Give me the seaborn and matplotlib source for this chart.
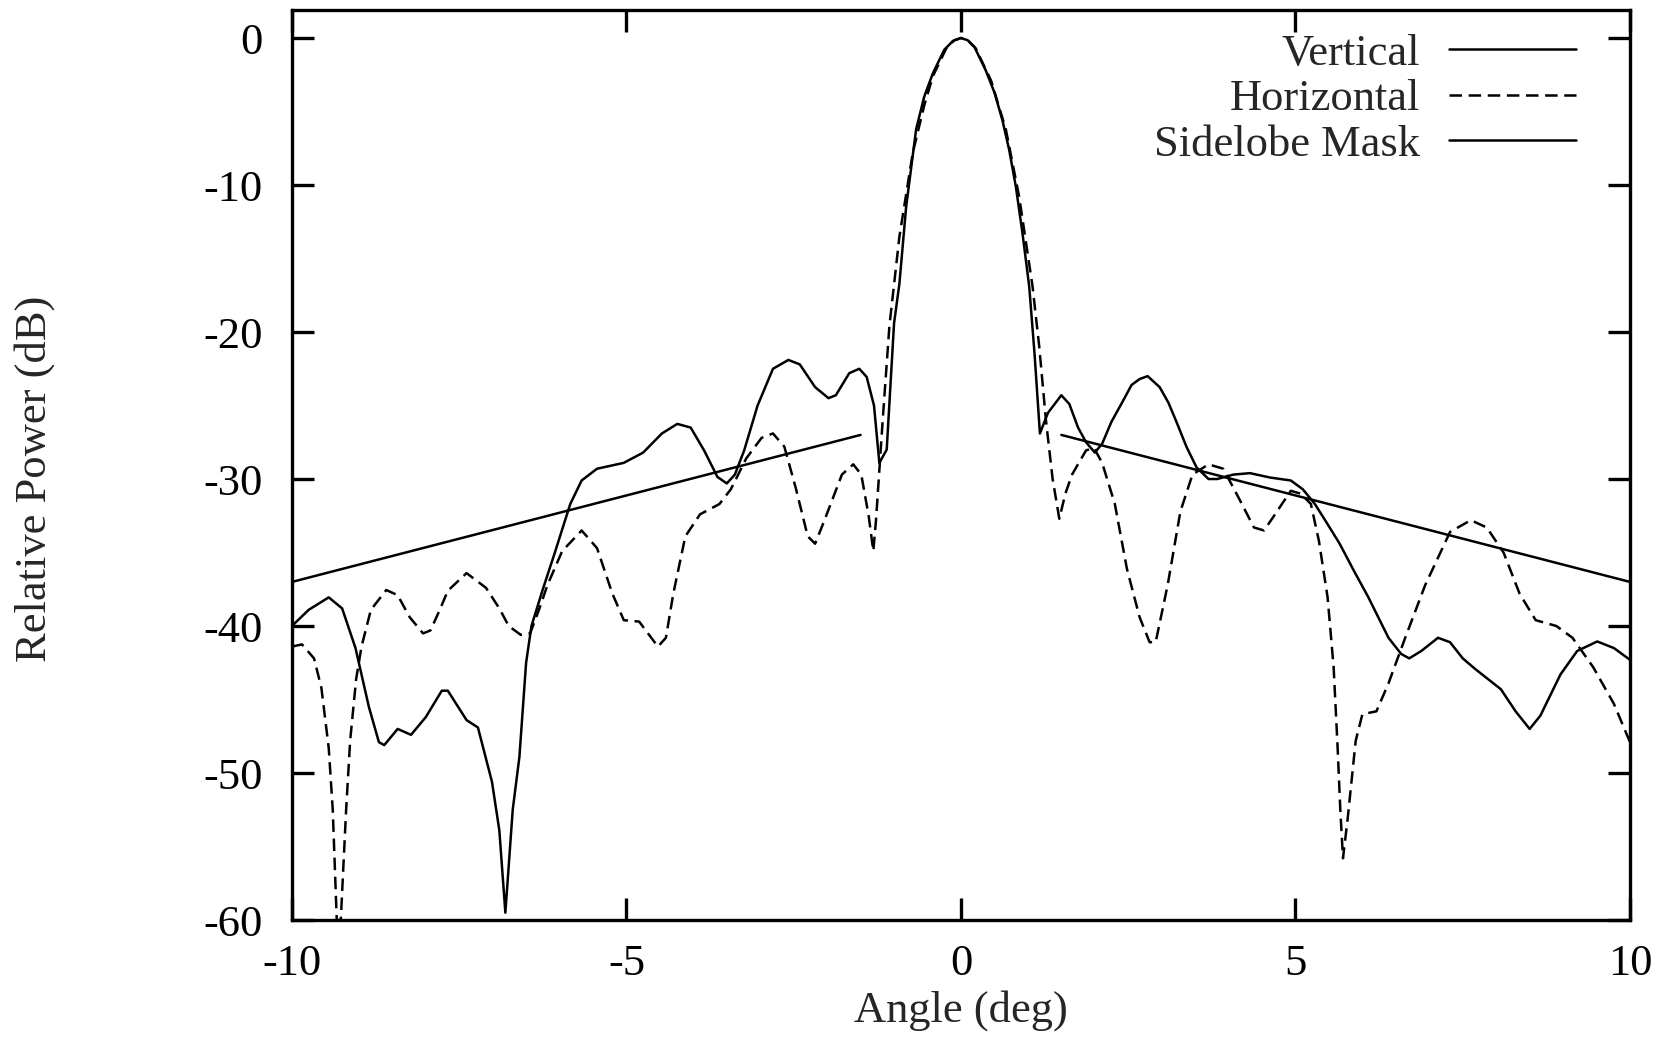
import numpy as np
import pandas as pd
import matplotlib
matplotlib.use("Agg")
import matplotlib.pyplot as plt
import seaborn as sns

# antenna pattern cuts (angle in deg, power in dB)
vert_angle = [-10.0, -9.75, -9.45, -9.25, -9.05, -8.85, -8.70, -8.62, -8.42, -8.22,
              -8.0, -7.76, -7.67, -7.39, -7.22, -7.01, -6.90, -6.81, -6.70, -6.60,
              -6.50, -6.42, -6.25, -6.07, -5.84, -5.67, -5.44, -5.04, -4.75, -4.47,
              -4.24, -4.04, -3.84, -3.64, -3.50, -3.38, -3.24, -3.04, -2.81, -2.58,
              -2.41, -2.18, -1.98, -1.87, -1.67, -1.52, -1.41, -1.30, -1.22, -1.11,
              -1.00, -0.92, -0.82, -0.67, -0.55, -0.42, -0.25, -0.12, 0.0, 0.10,
              0.20, 0.37, 0.50, 0.62, 0.72, 0.82, 0.92, 1.02, 1.10, 1.18,
              1.30, 1.50, 1.62, 1.75, 1.87, 2.0, 2.11, 2.25, 2.42, 2.55,
              2.67, 2.79, 2.97, 3.10, 3.22, 3.37, 3.52, 3.70, 3.83, 4.07,
              4.32, 4.62, 4.93, 5.11, 5.29, 5.47, 5.66, 5.88, 6.09, 6.39,
              6.58, 6.70, 6.88, 7.13, 7.31, 7.50, 7.68, 8.07, 8.29, 8.50,
              8.66, 8.96, 9.21, 9.51, 9.76, 10.0]
vert_db = [-40.0, -38.9, -38.05, -38.8, -41.5, -45.5, -47.9, -48.1, -47.0, -47.4,
           -46.2, -44.4, -44.4, -46.4, -46.9, -50.6, -53.9, -59.5, -52.5, -48.9,
           -42.5, -40.0, -37.5, -35.0, -31.7, -30.1, -29.3, -28.9, -28.2, -26.9,
           -26.25, -26.5, -28.05, -29.86, -30.3, -29.7, -28.05, -25.0, -22.5, -21.9,
           -22.2, -23.75, -24.5, -24.3, -22.8, -22.5, -23.05, -25.0, -28.9, -28.0,
           -19.4, -16.7, -11.5, -6.2, -4.0, -2.4, -0.8, -0.2, 0.0, -0.15,
           -0.6, -2.2, -3.7, -5.6, -7.6, -10.1, -13.3, -16.9, -21.5, -26.9,
           -25.5, -24.3, -24.9, -26.5, -27.5, -28.2, -27.6, -26.1, -24.7, -23.6,
           -23.2, -23.0, -23.75, -24.8, -26.1, -27.8, -29.2, -30.0, -30.0, -29.7,
           -29.6, -29.9, -30.1, -30.7, -31.7, -33.0, -34.4, -36.3, -38.05, -40.8,
           -41.9, -42.2, -41.7, -40.8, -41.1, -42.2, -42.9, -44.3, -45.8, -47.0,
           -46.1, -43.3, -41.7, -41.05, -41.5, -42.3]

horiz_angle = [-10.0, -9.85, -9.67, -9.56, -9.45, -9.39, -9.33, -9.27, -9.19, -9.13,
               -9.04, -8.96, -8.82, -8.59, -8.42, -8.24, -8.04, -7.93, -7.80, -7.67,
               -7.39, -7.10, -6.90, -6.76, -6.58, -6.44, -6.30, -6.18, -5.96, -5.67,
               -5.44, -5.21, -5.04, -4.81, -4.53, -4.41, -4.30, -4.12, -3.90, -3.61,
               -3.44, -3.21, -2.98, -2.81, -2.64, -2.47, -2.29, -2.18, -2.04, -1.78,
               -1.61, -1.49, -1.38, -1.31, -1.27, -1.17, -1.07, -0.92, -0.72, -0.55,
               -0.42, -0.22, -0.10, 0.0, 0.10, 0.22, 0.45, 0.67, 0.87, 1.07,
               1.17, 1.27, 1.37, 1.47, 1.56, 1.66, 1.87, 1.99, 2.11, 2.30,
               2.48, 2.67, 2.82, 2.91, 3.09, 3.28, 3.46, 3.70, 3.92, 4.13,
               4.38, 4.53, 4.68, 4.93, 5.08, 5.23, 5.35, 5.48, 5.57, 5.63,
               5.67, 5.71, 5.78, 5.90, 6.00, 6.21, 6.39, 6.64, 6.94, 7.31,
               7.62, 7.86, 8.11, 8.35, 8.59, 8.90, 9.14, 9.45, 9.76, 10.0]
horiz_db = [-41.4, -41.25, -42.2, -44.2, -48.3, -52.5, -60.0, -60.0, -52.5, -47.8,
            -43.6, -41.4, -38.9, -37.55, -37.9, -39.4, -40.5, -40.3, -39.0, -37.6,
            -36.4, -37.4, -38.8, -40.0, -40.6, -40.5, -38.8, -37.2, -34.9, -33.5,
            -34.7, -37.8, -39.6, -39.7, -41.4, -40.8, -37.8, -33.9, -32.4, -31.7,
            -30.7, -28.6, -27.2, -26.9, -27.8, -30.6, -33.9, -34.4, -32.8, -29.7,
            -29.0, -29.7, -32.5, -34.9, -32.8, -26.0, -19.6, -13.5, -7.8, -4.6,
            -2.6, -0.7, -0.15, 0.0, -0.15, -0.7, -2.9, -6.2, -10.8, -16.9,
            -21.0, -26.0, -30.0, -32.7, -31.0, -29.7, -28.05, -27.9, -28.9, -31.7,
            -36.1, -39.4, -41.1, -41.1, -37.2, -32.2, -29.7, -29.0, -29.3, -31.1,
            -33.3, -33.5, -32.5, -30.8, -31.0, -31.7, -34.2, -38.05, -42.8, -48.3,
            -52.5, -55.8, -53.1, -47.8, -46.0, -45.8, -43.9, -40.8, -37.2, -33.6,
            -32.8, -33.3, -35.0, -37.8, -39.6, -40.0, -40.8, -42.8, -45.3, -47.9]

# sidelobe mask, two straight segments
mask_left_angle = [-10.0, -1.5]
mask_left_db = [-37.0, -27.0]
mask_right_angle = [1.5, 10.0]
mask_right_db = [-27.0, -37.0]

x_ticks = [-10, -5, 0, 5, 10]
y_ticks = [0, -10, -20, -30, -40, -50, -60]

sns.set_style("ticks")
plt.rcParams['font.family'] = ['Liberation Serif', 'DejaVu Serif']
plt.rcParams['axes.unicode_minus'] = False

fig = plt.figure(figsize=(16.73, 10.39), dpi=100)
ax = fig.add_axes([0.1745, 0.1145, 0.7998, 0.8758])

vert = pd.DataFrame({"angle": vert_angle, "db": vert_db})
horiz = pd.DataFrame({"angle": horiz_angle, "db": horiz_db})
lw = 1.8
fs = 32

sns.lineplot(data=vert, x="angle", y="db", ax=ax, color="black", lw=lw,
             label="Vertical", sort=False)
sns.lineplot(data=horiz, x="angle", y="db", ax=ax, color="black", lw=lw,
             linestyle=(0, (5.0, 2.65)), label="Horizontal", sort=False)
sns.lineplot(x=mask_left_angle, y=mask_left_db, ax=ax, color="black", lw=lw,
             label="Sidelobe Mask", sort=False)
sns.lineplot(x=mask_right_angle, y=mask_right_db, ax=ax, color="black", lw=lw,
             sort=False)

ax.set_xlim(-10, 10)
ax.set_ylim(-60, 1.9)
ax.set_xticks(x_ticks)
ax.set_yticks(y_ticks)
ax.set_xticklabels([str(t) for t in x_ticks])
ax.set_yticklabels([str(t) for t in y_ticks])

for side in ["top", "right", "bottom", "left"]:
    ax.spines[side].set_visible(True)
    ax.spines[side].set_linewidth(2.4)
    ax.spines[side].set_color("black")
ax.tick_params(axis="both", direction="in", length=16, width=2.4,
               top=True, right=True, labelsize=fs, colors="black")
ax.tick_params(axis="y", pad=21)
ax.tick_params(axis="x", pad=17)

ax.set_xlabel("Angle (deg)", fontsize=fs)
ax.set_ylabel("Relative Power (dB)", fontsize=fs)
ax.xaxis.set_label_coords(0.5, -0.077)
ax.yaxis.set_label_coords(-0.177, 0.485)

leg = ax.legend(loc="upper right", bbox_to_anchor=(0.9596, 0.974), frameon=False,
                markerfirst=False, fontsize=fs, handlelength=2.86, handletextpad=0.65,
                labelspacing=0.12, borderaxespad=0, borderpad=0)

fig.savefig("out.png", dpi=100, facecolor="white")
